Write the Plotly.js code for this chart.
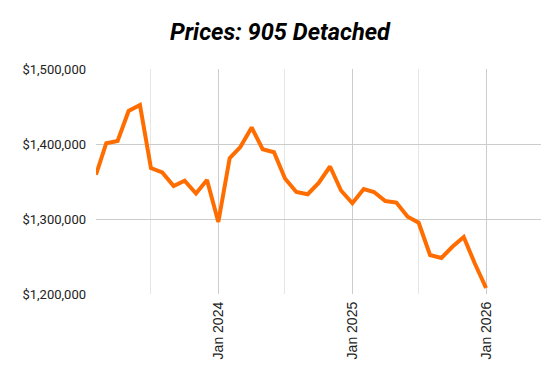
<!DOCTYPE html>
<html><head><meta charset="utf-8">
<script src="https://cdn.plot.ly/plotly-3.0.1.min.js"></script>
<style>html,body{margin:0;padding:0;background:#fff}#c{width:560px;height:379px}</style>
</head><body><div id="c"></div>
<script>
const months = ['2023-02-01','2023-03-01','2023-04-01','2023-05-01','2023-06-01','2023-07-01','2023-08-01','2023-09-01','2023-10-01','2023-11-01','2023-12-01',
'2024-01-01','2024-02-01','2024-03-01','2024-04-01','2024-05-01','2024-06-01','2024-07-01','2024-08-01','2024-09-01','2024-10-01','2024-11-01','2024-12-01',
'2025-01-01','2025-02-01','2025-03-01','2025-04-01','2025-05-01','2025-06-01','2025-07-01','2025-08-01','2025-09-01','2025-10-01','2025-11-01','2025-12-01',
'2026-01-01'];
const prices = [1359000,1401000,1404000,1444000,1452000,1368000,1362000,1344000,1351000,1334000,1352000,
1296000,1381000,1396000,1422000,1393000,1389000,1354000,1336000,1333000,1348000,1370000,1338000,
1321000,1340000,1336000,1324000,1322000,1303000,1295000,1252000,1248000,1263000,1276000,1241000,
1208000];
const yTicks = [1200000,1300000,1400000,1500000];
const yTickText = ['$1,200,000','$1,300,000','$1,400,000','$1,500,000'];

Plotly.newPlot('c',[{
  x: months, y: prices, type:'scatter', mode:'lines',
  line:{color:'#ff6d01', width:4}, hoverinfo:'skip'
}],{
  width:560, height:379,
  margin:{l:96,r:19,t:69,b:85},
  paper_bgcolor:'#fff', plot_bgcolor:'#fff',
  font:{family:'Roboto, Arial, sans-serif', size:13, color:'#222'},
  title:{text:'<b><i>Prices: 905 Detached</i></b>', x:0.5, xanchor:'center', y:0.915, yanchor:'middle',
    font:{family:'Roboto, Arial, sans-serif', size:23.6, color:'#000'}},
  showlegend:false,
  xaxis:{type:'date', range:['2023-02-01','2026-05-31'],
    tickmode:'linear', tick0:'2024-01-01', dtick:'M12', tickformat:'%b %Y', tickangle:-90,
    showgrid:true, gridcolor:'#cccccc', gridwidth:1, zeroline:false, showline:false, ticks:'',
    ticklabelstandoff:4,
    minor:{tick0:'2023-07-01', dtick:'M6', showgrid:true, gridcolor:'#e6e6e6', gridwidth:1},
    tickfont:{family:'Arial, Liberation Sans, sans-serif', size:14, color:'#222'}, fixedrange:true},
  yaxis:{range:[1200000,1500000], tickvals:yTicks, ticktext:yTickText,
    showgrid:true, gridcolor:'#cccccc', gridwidth:1, zeroline:false, showline:false, ticks:'',
    ticklabelstandoff:9, tickfont:{size:13, color:'#222'}, fixedrange:true}
},{displayModeBar:false, staticPlot:true});
</script></body></html>
